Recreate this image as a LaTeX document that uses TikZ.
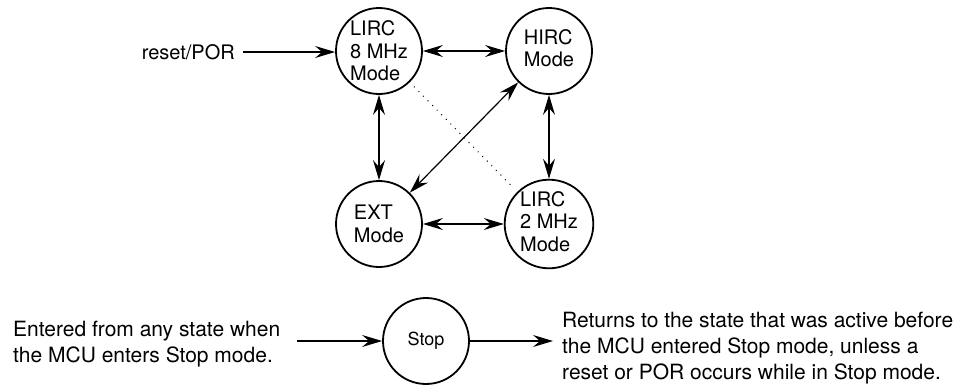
\documentclass[tikz,border=0pt]{standalone}
\usepackage{fontspec}
\setmainfont{TeX Gyre Heros}
\usetikzlibrary{arrows.meta}
\tikzset{
  x=1pt, y=-1pt,
  state/.style={circle, draw, line width=1.8pt, minimum size=86pt, inner sep=0pt,
    align=left, font=\fontsize{20}{22.5}\selectfont},
  conn/.style={line width=1.2pt, {Stealth[length=20pt,width=12pt,inset=7pt]}-{Stealth[length=20pt,width=12pt,inset=7pt]}},
  oneway/.style={line width=1.2pt, -{Stealth[length=20pt,width=12pt,inset=7pt]}},
  plain/.style={font=\fontsize{21}{26}\selectfont, align=left, inner sep=0pt},
  dotline/.style={line width=1pt, dash pattern=on 1pt off 5.5pt, shorten <=6pt, shorten >=6pt}
}
\newcommand{\lstack}[1]{\begin{tabular}{@{}l@{}}#1\end{tabular}}
\begin{document}
\begin{tikzpicture}
\useasboundingbox (0,0) rectangle (959,384);
% states
\node[state] (lirc8) at (379,51) {LIRC\\8 MHz\\Mode};
\node[state] (hirc) at (549,51) {\raisebox{-5pt}{\lstack{HIRC\\Mode}}};
\node[state] (ext) at (379,224) {EXT\\Mode};
\node[state] (lirc2) at (549,224) {\raisebox{-3pt}{\lstack{LIRC\\2 MHz\\Mode}}};
\node[state, font=\fontsize{18}{22}\selectfont] (stop) at (426,341) {Stop};
% labels
\node[plain, anchor=east, font=\fontsize{20}{24}\selectfont] (reset) at (235,52) {reset/POR};
\node[plain, anchor=west] (entered) at (13,344) {Entered from any state when\\the MCU enters Stop mode.};
\node[plain, anchor=west] (returns) at (562,348) {Returns to the state that was active before\\the MCU entered Stop mode, unless a\\reset or POR occurs while in Stop mode.};
\coordinate (in) at (297,341);
\coordinate (out) at (553,341);
% connectors
\draw[oneway, shorten <=8pt] (reset.east) -- (reset.east -| lirc8.west);
\draw[conn] (lirc8) -- (hirc);
\draw[conn] (lirc8) -- (ext);
\draw[conn] (hirc) -- (lirc2);
\draw[conn] (ext) -- (lirc2);
\draw[conn] (ext) -- (hirc);
\draw[dotline] (lirc8) -- (lirc2);
\draw[oneway] (in) -- (stop);
\draw[oneway] (stop) -- (out);
\end{tikzpicture}
\end{document}
